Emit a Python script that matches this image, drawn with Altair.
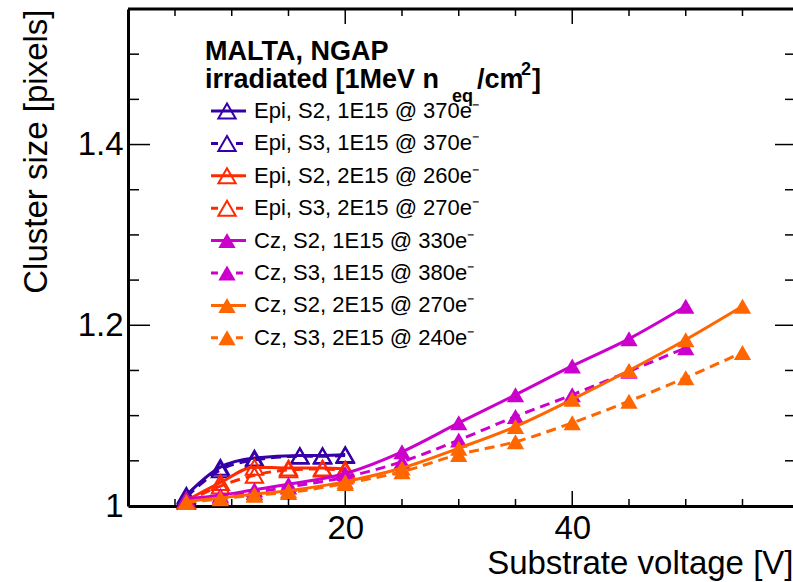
import altair as alt
import pandas as pd

# ---------------- data ----------------
x_epi_1e15 = [6, 9, 12, 16, 18, 20]
y_epi_s2_1e15 = [1.012, 1.043, 1.053, 1.056, 1.056, 1.057]
y_epi_s3_1e15 = [1.010, 1.040, 1.051, 1.055, 1.055, 1.056]

x_epi_2e15 = [6, 9, 12, 15, 18, 20]
y_epi_s2_2e15 = [1.006, 1.026, 1.043, 1.042, 1.042, 1.041]
y_epi_s3_2e15 = [1.005, 1.022, 1.034, 1.040, 1.041, 1.039]

x_cz_1e15 = [6, 9, 12, 15, 20, 25, 30, 35, 40, 45, 50]
y_cz_s2_1e15 = [1.008, 1.012, 1.018, 1.024, 1.036, 1.060, 1.092, 1.123, 1.155, 1.185, 1.221]
y_cz_s3_1e15 = [1.007, 1.010, 1.015, 1.021, 1.032, 1.049, 1.073, 1.099, 1.123, 1.149, 1.175]

x_cz_2e15 = [6, 9, 12, 15, 20, 25, 30, 35, 40, 45, 50, 55]
y_cz_s2_2e15 = [1.005, 1.009, 1.013, 1.017, 1.027, 1.042, 1.064, 1.088, 1.118, 1.150, 1.184, 1.221]
y_cz_s3_2e15 = [1.004, 1.008, 1.012, 1.015, 1.025, 1.038, 1.057, 1.071, 1.092, 1.116, 1.142, 1.170]

labels = [
    "Epi, S2, 1E15 @ 370e\u207b",
    "Epi, S3, 1E15 @ 370e\u207b",
    "Epi, S2, 2E15 @ 260e\u207b",
    "Epi, S3, 2E15 @ 270e\u207b",
    "Cz, S2, 1E15 @ 330e\u207b",
    "Cz, S3, 1E15 @ 380e\u207b",
    "Cz, S2, 2E15 @ 270e\u207b",
    "Cz, S3, 2E15 @ 240e\u207b",
]
xs = [x_epi_1e15, x_epi_1e15, x_epi_2e15, x_epi_2e15, x_cz_1e15, x_cz_1e15, x_cz_2e15, x_cz_2e15]
ys = [y_epi_s2_1e15, y_epi_s3_1e15, y_epi_s2_2e15, y_epi_s3_2e15,
      y_cz_s2_1e15, y_cz_s3_1e15, y_cz_s2_2e15, y_cz_s3_2e15]
colors = ["#3500a8", "#3500a8", "#ff2a00", "#ff2a00", "#cc00cc", "#cc00cc", "#ff6600", "#ff6600"]
dashed = [False, True, False, True, False, True, False, True]
filled = [False, False, False, False, True, True, True, True]

x_minor = [5, 10, 15, 25, 30, 35, 45, 50, 55]
x_major = [20, 40]
y_minor = [1.05, 1.10, 1.15, 1.25, 1.30, 1.35, 1.45, 1.50]
y_major = [1.2, 1.4]

# ---------------- layout ----------------
W, H = 665, 497
FONT = "Liberation Sans"
DASH = [10, 6]

xs_scale = alt.Scale(domain=[0.86, 59.45], nice=False, zero=False)
ys_scale = alt.Scale(domain=[1.0, 1.55], nice=False, zero=False)

x_axis = alt.Axis(values=x_major, format="d", title="Substrate voltage [V]",
                  ticks=False, grid=False, domainWidth=3, domainColor="black",
                  labelFontSize=33, labelFont=FONT, labelColor="black", labelPadding=6,
                  titleFontSize=33, titleFont=FONT, titleFontWeight="normal", titleColor="black",
                  titleAlign="right", titleAnchor="end", titleX=W, titleY=67,
                  titleBaseline="alphabetic")
y_axis = alt.Axis(values=[1.0] + y_major, format=".1~f", title="Cluster size [pixels]",
                  ticks=False, grid=False, domainWidth=3, domainColor="black",
                  labelFontSize=33, labelFont=FONT, labelColor="black", labelPadding=5,
                  titleFontSize=33, titleFont=FONT, titleFontWeight="normal", titleColor="black",
                  titleAngle=-90, titleAlign="right", titleAnchor="end",
                  titleX=-82, titleY=0, titleBaseline="alphabetic")


def X(field="x"):
    return alt.X(f"{field}:Q", scale=xs_scale, axis=x_axis)


def Y(field="y"):
    return alt.Y(f"{field}:Q", scale=ys_scale, axis=y_axis)


layers = []

# data series
for i in range(len(labels)):
    df = pd.DataFrame({"x": xs[i], "y": ys[i]})
    line_kw = dict(color=colors[i], strokeWidth=3, interpolate="monotone", clip=True)
    if dashed[i]:
        line_kw["strokeDash"] = DASH
    layers.append(alt.Chart(df).mark_line(**line_kw).encode(x=X(), y=Y()))
    if filled[i]:
        pt = alt.Chart(df).mark_point(shape="triangle-up", filled=True, size=300,
                                      color=colors[i], opacity=1)
    else:
        pt = alt.Chart(df).mark_point(shape="triangle-up", filled=False, size=300,
                                      color=colors[i], strokeWidth=2, opacity=1)
    layers.append(pt.encode(x=X(), y=Y()))

# frame ticks (ROOT style, pointing inward)
def xticks(vals, length):
    df = pd.DataFrame({"x": vals})
    bottom = alt.Chart(df).mark_rule(color="black", strokeWidth=1.5).encode(
        x=X(), y=alt.value(H), y2=alt.value(H - length))
    top = alt.Chart(df).mark_rule(color="black", strokeWidth=1.5).encode(
        x=X(), y=alt.value(0), y2=alt.value(length))
    return [bottom, top]


def yticks(vals, length, rlength):
    df = pd.DataFrame({"y": vals})
    left = alt.Chart(df).mark_rule(color="black", strokeWidth=1.5).encode(
        y=Y(), x=alt.value(0), x2=alt.value(length))
    right = alt.Chart(df).mark_rule(color="black", strokeWidth=1.5).encode(
        y=Y(), x=alt.value(W), x2=alt.value(W - rlength))
    return [left, right]


layers += xticks(x_minor, 7) + xticks(x_major, 15)
layers += yticks(y_minor, 11, 8) + yticks(y_major, 22, 18)

one = pd.DataFrame({"a": [0]})
# top frame line
layers.append(alt.Chart(one).mark_rule(color="black", strokeWidth=3).encode(
    x=alt.value(0), x2=alt.value(W), y=alt.value(0)))

# ---------------- legend ----------------
def txt(s, x, y, size, bold=False, align="left", baseline="alphabetic"):
    return alt.Chart(one).mark_text(text=s, fontSize=size, font=FONT,
                                    fontWeight="bold" if bold else "normal",
                                    align=align, baseline=baseline, color="black").encode(
        x=alt.value(x), y=alt.value(y))


layers.append(txt("MALTA, NGAP", 77, 51, 27, bold=True))
layers.append(txt("irradiated [1MeV n", 77, 79, 27, bold=True))
layers.append(txt("eq", 324, 93, 18, bold=True))
layers.append(txt("/cm", 349, 79, 27, bold=True))
layers.append(txt("2", 393, 66, 18, bold=True))
layers.append(txt("]", 404, 79, 27, bold=True))

for i in range(len(labels)):
    yy = 102 + 32.4 * i
    rule_kw = dict(color=colors[i], strokeWidth=3)
    if dashed[i]:
        rule_kw["strokeDash"] = [7, 18]
    layers.append(alt.Chart(one).mark_rule(**rule_kw).encode(
        x=alt.value(83), x2=alt.value(118), y=alt.value(yy)))
    if filled[i]:
        p = alt.Chart(one).mark_point(shape="triangle-up", filled=True, size=300,
                                      color=colors[i], opacity=1)
    else:
        p = alt.Chart(one).mark_point(shape="triangle-up", filled=False, size=300,
                                      color=colors[i], strokeWidth=2, opacity=1)
    layers.append(p.encode(x=alt.value(99), y=alt.value(yy)))
    layers.append(txt(labels[i], 126, yy, 22, baseline="middle"))

chart = alt.layer(*layers).properties(
    width=W, height=H,
    autosize=alt.AutoSizeParams(type="none"),
    padding={"left": 128, "top": 9, "right": 0, "bottom": 76},
).configure_view(stroke=None).configure(background="white")

chart.save("out.html", embed_options={"renderer": "svg", "actions": False})
